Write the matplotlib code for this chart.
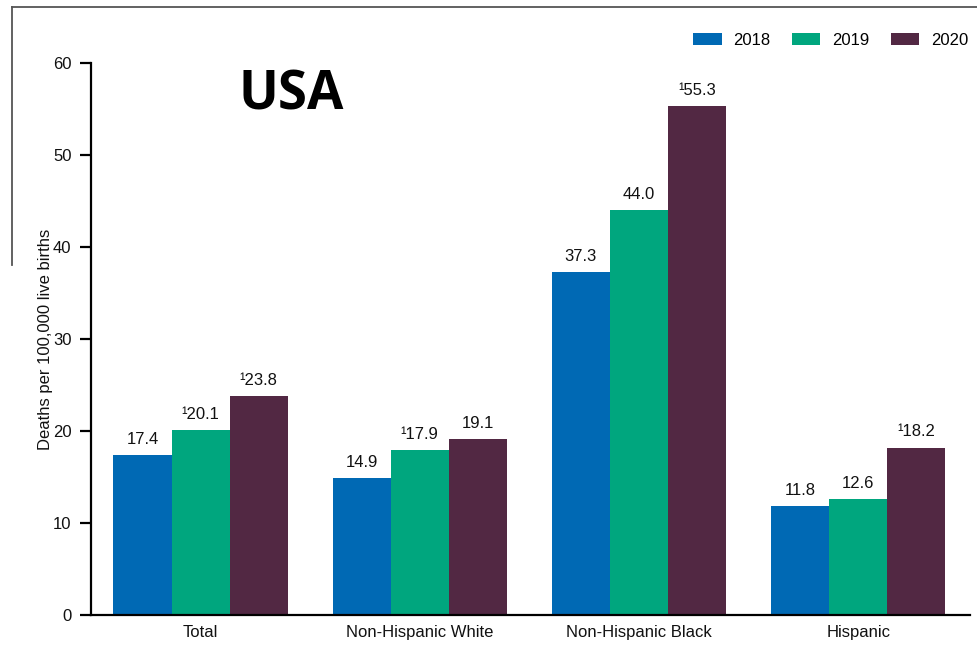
import matplotlib.pyplot as plt
import numpy as np
from matplotlib.lines import Line2D

plt.rcParams['font.family'] = ['Liberation Sans', 'DejaVu Sans']

groups = ["Total", "Non-Hispanic White", "Non-Hispanic Black", "Hispanic"]
years = ["2018", "2019", "2020"]
rates_2018 = [17.4, 14.9, 37.3, 11.8]
rates_2019 = [20.1, 17.9, 44.0, 12.6]
rates_2020 = [23.8, 19.1, 55.3, 18.2]
# footnote 1 marks on the value labels
note_2018 = [False, False, False, False]
note_2019 = [True, True, False, False]
note_2020 = [True, False, True, True]

colors = ["#0069B4", "#00A67E", "#522843"]

fig = plt.figure(figsize=(9.77, 6.61), dpi=100)
ax = fig.add_axes([0.0931, 0.0696, 0.8997, 0.8351])

x = np.arange(len(groups))
w = 0.265
series = [rates_2018, rates_2019, rates_2020]
notes = [note_2018, note_2019, note_2020]
for i, (vals, nts) in enumerate(zip(series, notes)):
    pos = x + (i - 1) * w
    ax.bar(pos, vals, width=w, color=colors[i], label=years[i])
    for p, v, n in zip(pos, vals, nts):
        txt = ("\u00b9" if n else "") + f"{v:.1f}"
        ax.text(p, v + 0.9, txt, ha="center", va="bottom", fontsize=12,
                color="#111111")

ax.set_xlim(-0.5, 3.51)
ax.set_ylim(0, 60)
ax.set_yticks(range(0, 61, 10))
ax.set_xticks(x)
ax.set_xticklabels(groups, fontsize=12, color="#111111")
ax.tick_params(axis="x", length=0, pad=7)
ax.tick_params(axis="y", direction="out", length=8, width=1.6,
               labelsize=12, labelcolor="#111111", pad=6)
for s in ["top", "right"]:
    ax.spines[s].set_visible(False)
ax.spines["left"].set_linewidth(1.6)
ax.spines["bottom"].set_linewidth(1.6)
ax.set_ylabel("Deaths per 100,000 live births", fontsize=12,
              color="#111111", labelpad=0)

ax.legend(loc="upper right", bbox_to_anchor=(1.003, 0.968),
          bbox_transform=fig.transFigure, ncol=3, frameon=False,
          fontsize=12, handlelength=1.7, handleheight=0.75,
          handletextpad=0.7, columnspacing=1.3, borderaxespad=0.3)

fig.text(0.298, 0.856, "USA", fontsize=38, fontweight="bold",
         family="Open Sans", ha="center", va="center")

# frame edges around the top-left of the image
fig.add_artist(Line2D([12 / 977, 1.0], [1 - 7 / 661, 1 - 7 / 661],
                      transform=fig.transFigure, color="#555555", lw=1.3))
fig.add_artist(Line2D([12 / 977, 12 / 977], [1 - 7 / 661, 1 - 265 / 661],
                      transform=fig.transFigure, color="#555555", lw=1.3))

fig.savefig("out.png", dpi=100)
